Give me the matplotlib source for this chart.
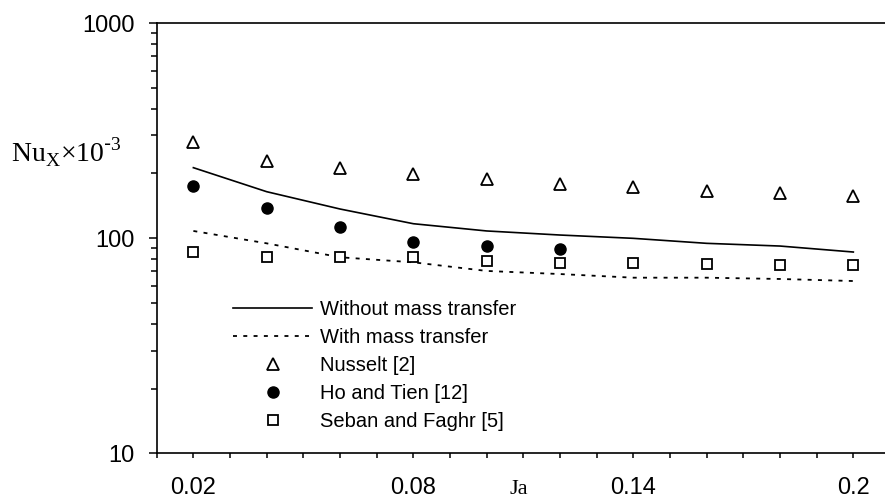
import matplotlib
matplotlib.use("Agg")
import matplotlib.pyplot as plt
from matplotlib.ticker import FixedLocator, NullFormatter, LogLocator

# Data
ja_labels = ["0.02", "0.04", "0.06", "0.08", "0.10", "0.12", "0.14", "0.16", "0.18", "0.2"]
without_mt = [212.6, 164.4, 136.6, 116.7, 108.0, 103.4, 99.8, 94.6, 91.9, 86.2]
with_mt = [108.0, 94.6, 81.5, 77.2, 70.4, 68.1, 65.5, 65.5, 64.6, 63.2]
nusselt = [279, 229, 211, 198.7, 187.7, 178.5, 172.9, 165.1, 161.6, 157.0]
ho_tien = [174.8, 137.6, 112.3, 95.7, 91.9, 88.8]
seban = [86.5, 81.5, 81.5, 81.5, 78.3, 76.9, 76.9, 75.6, 75.0, 75.0]
shown_ticks = ["0.02", "0.08", "0.14", "0.2"]

W, H = 885, 499
fig = plt.figure(figsize=(W / 100, H / 100), dpi=100)
left, right, top, bottom = 156.7, 890, 23, 453.3
ax = fig.add_axes([left / W, 1 - bottom / H, (right - left) / W, (bottom - top) / H])

x = list(range(1, len(ja_labels) + 1))
x_ho = x[:len(ho_tien)]

ax.plot(x, without_mt, color="black", lw=1.2, label="Without mass transfer")
ax.plot(x, with_mt, color="black", lw=1.3, linestyle=(0, (2.2, 3.5)), label="With mass transfer")
ax.plot(x, nusselt, linestyle="none", marker="^", markersize=8.5, markerfacecolor="white",
        markeredgecolor="black", markeredgewidth=1.3, label="Nusselt [2]")
ax.plot(x_ho, ho_tien, linestyle="none", marker="o", markersize=8, color="black",
        label="Ho and Tien [12]")
ax.plot(x, seban, linestyle="none", marker="s", markersize=7.5, markerfacecolor="white",
        markeredgecolor="black", markeredgewidth=1.3, label="Seban and Faghr [5]")

ax.set_yscale("log")
ax.set_ylim(10, 1000)
ax.set_xlim(0.5, 10.5)

ax.spines["right"].set_visible(False)
for s in ["left", "bottom", "top"]:
    ax.spines[s].set_linewidth(1.2)

# x ticks
lab_pos = [x[ja_labels.index(t)] for t in shown_ticks]
ax.xaxis.set_major_locator(FixedLocator(lab_pos))
ax.set_xticklabels(shown_ticks)
minor = [0.5 + 0.5 * i for i in range(21) if (0.5 + 0.5 * i) not in lab_pos]
ax.xaxis.set_minor_locator(FixedLocator(minor))
ax.tick_params(axis="x", which="both", direction="out", length=3.8, width=1.1, pad=13.5,
               labelsize=17)
for t in ax.get_xticklabels():
    t.set_fontfamily("Liberation Sans")

# y ticks
ax.yaxis.set_major_locator(FixedLocator([10, 100, 1000]))
ax.set_yticklabels(["10", "100", "1000"])
ax.yaxis.set_minor_locator(LogLocator(base=10, subs=range(2, 10)))
ax.yaxis.set_minor_formatter(NullFormatter())
ax.tick_params(axis="y", which="major", direction="out", length=5.8, width=1.1, pad=10,
               labelsize=17)
ax.tick_params(axis="y", which="minor", direction="out", length=4.3, width=1.1)
for t in ax.get_yticklabels():
    t.set_fontfamily("Liberation Sans")

fig.text(11 / W, 1 - 152 / H, "Nu$_{\\mathregular{X}}$\u00d710$^{\\mathregular{\\text{-}3}}$",
         fontfamily="Liberation Serif", fontsize=20, ha="left", va="center")
fig.text(519 / W, 1 - 489 / H, "Ja", fontfamily="Liberation Serif", fontsize=16,
         ha="center", va="center")

leg = ax.legend(loc="upper left",
                bbox_to_anchor=((233 - left) / (right - left), (bottom - 300) / (bottom - top)),
                frameon=False, handlelength=3.93, handletextpad=0.4,
                labelspacing=0.45, borderpad=0, borderaxespad=0,
                prop={"family": "Liberation Sans", "size": 14.5})

fig.savefig("out.png", dpi=100)
